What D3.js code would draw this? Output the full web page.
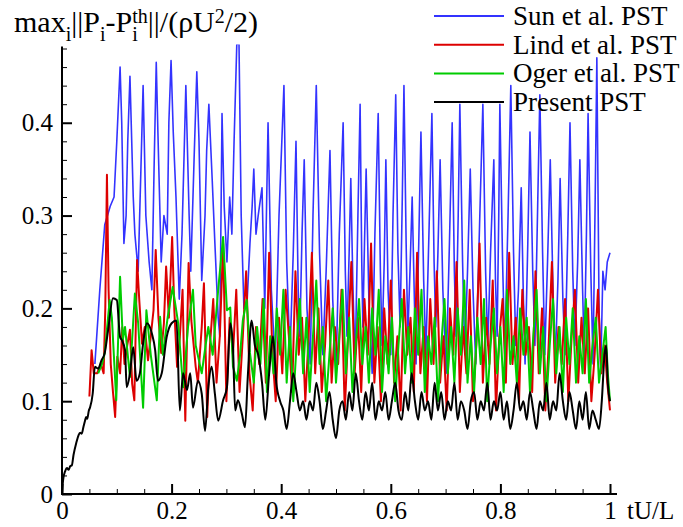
<!DOCTYPE html>
<html><head><meta charset="utf-8">
<script src="https://cdn.jsdelivr.net/npm/d3@7"></script>
<style>
body{margin:0;background:#fff}
svg{display:block}
text{font-family:"Liberation Serif","Times New Roman",serif;fill:#000}
</style>
</head><body>
<svg id="chart" width="683" height="527"></svg>
<script>
// ---------------- data ----------------
const xTickValues = [0, 0.2, 0.4, 0.6, 0.8, 1];
const xTickLabels = ["0", "0.2", "0.4", "0.6", "0.8", "1"];
const yTickValues = [0, 0.1, 0.2, 0.3, 0.4];
const yTickLabels = ["0", "0.1", "0.2", "0.3", "0.4"];
const seriesNames = ["Sun et al. PST", "Lind et al. PST", "Oger et al. PST", "Present PST"];
const xTitle = "tU/L";

const sunPST = [
[0.060,0.14],[0.069,0.22],[0.078,0.29],[0.088,0.31],[0.095,0.32],[0.100,0.38],[0.106,0.46],[0.109,0.40],
[0.113,0.27],[0.117,0.30],[0.120,0.38],[0.124,0.45],[0.130,0.32],[0.133,0.28],[0.139,0.24],[0.144,0.35],
[0.148,0.44],[0.153,0.30],[0.159,0.25],[0.164,0.22],[0.168,0.35],[0.172,0.465],[0.175,0.39],[0.181,0.25],
[0.186,0.30],[0.192,0.28],[0.195,0.40],[0.199,0.467],[0.203,0.39],[0.208,0.32],[0.214,0.21],[0.219,0.28],
[0.223,0.37],[0.226,0.44],[0.232,0.30],[0.235,0.24],[0.241,0.36],[0.246,0.455],[0.250,0.38],[0.255,0.23],
[0.261,0.30],[0.264,0.37],[0.268,0.42],[0.274,0.34],[0.279,0.27],[0.285,0.19],[0.288,0.17],[0.292,0.41],
[0.296,0.31],[0.301,0.25],[0.306,0.32],[0.310,0.28],[0.314,0.38],[0.319,0.485],[0.323,0.485],[0.327,0.30],
[0.332,0.20],[0.338,0.21],[0.343,0.27],[0.347,0.31],[0.350,0.35],[0.354,0.28],[0.358,0.30],[0.365,0.33],
[0.370,0.20],[0.376,0.40],[0.382,0.22],[0.389,0.14],[0.396,0.30],[0.405,0.44],[0.410,0.25],[0.416,0.15],
[0.422,0.26],[0.427,0.38],[0.431,0.22],[0.434,0.17],[0.438,0.28],[0.442,0.36],[0.447,0.20],[0.453,0.14],
[0.458,0.30],[0.464,0.44],[0.470,0.26],[0.476,0.15],[0.482,0.24],[0.489,0.37],[0.494,0.21],[0.500,0.13],
[0.506,0.28],[0.513,0.40],[0.517,0.24],[0.520,0.17],[0.524,0.26],[0.527,0.34],[0.531,0.22],[0.535,0.14],
[0.540,0.30],[0.544,0.42],[0.547,0.25],[0.549,0.18],[0.552,0.27],[0.555,0.35],[0.560,0.21],[0.566,0.13],
[0.571,0.28],[0.577,0.41],[0.581,0.24],[0.584,0.16],[0.588,0.25],[0.591,0.36],[0.595,0.22],[0.600,0.15],
[0.604,0.30],[0.609,0.43],[0.613,0.26],[0.617,0.18],[0.621,0.32],[0.624,0.44],[0.628,0.27],[0.631,0.17],
[0.635,0.24],[0.639,0.32],[0.643,0.21],[0.646,0.14],[0.651,0.27],[0.655,0.39],[0.660,0.23],[0.664,0.15],
[0.670,0.29],[0.675,0.41],[0.679,0.25],[0.682,0.18],[0.686,0.26],[0.690,0.36],[0.695,0.22],[0.701,0.13],
[0.707,0.27],[0.712,0.40],[0.716,0.24],[0.719,0.17],[0.723,0.30],[0.726,0.42],[0.731,0.25],[0.735,0.15],
[0.740,0.24],[0.745,0.35],[0.750,0.22],[0.755,0.14],[0.762,0.29],[0.768,0.42],[0.773,0.24],[0.777,0.16],
[0.782,0.26],[0.788,0.36],[0.791,0.23],[0.794,0.17],[0.797,0.30],[0.799,0.42],[0.804,0.25],[0.808,0.15],
[0.814,0.30],[0.819,0.44],[0.824,0.26],[0.828,0.16],[0.833,0.22],[0.838,0.33],[0.842,0.21],[0.845,0.14],
[0.850,0.27],[0.854,0.39],[0.859,0.24],[0.863,0.16],[0.868,0.31],[0.872,0.43],[0.877,0.26],[0.881,0.15],
[0.886,0.25],[0.891,0.36],[0.896,0.22],[0.900,0.14],[0.905,0.23],[0.909,0.34],[0.914,0.21],[0.918,0.15],
[0.923,0.28],[0.927,0.40],[0.932,0.24],[0.936,0.16],[0.941,0.25],[0.945,0.36],[0.950,0.22],[0.953,0.15],
[0.957,0.28],[0.960,0.41],[0.965,0.24],[0.969,0.14],[0.973,0.32],[0.976,0.47],[0.980,0.20],[0.983,0.13],
[0.987,0.24],[0.991,0.22],[0.995,0.25],[1.000,0.26]
];

const lindPST = [
[0.050,0.105],[0.054,0.155],[0.058,0.13],[0.064,0.13],[0.071,0.14],[0.076,0.13],[0.079,0.20],[0.082,0.344],
[0.085,0.22],[0.089,0.14],[0.093,0.11],[0.097,0.083],[0.101,0.148],[0.106,0.13],[0.110,0.18],[0.114,0.14],
[0.119,0.16],[0.124,0.177],[0.128,0.119],[0.132,0.101],[0.137,0.252],[0.141,0.209],[0.146,0.162],[0.151,0.18],
[0.157,0.144],[0.162,0.17],[0.167,0.198],[0.171,0.263],[0.176,0.19],[0.181,0.152],[0.186,0.184],[0.190,0.245],
[0.195,0.19],[0.201,0.277],[0.205,0.198],[0.210,0.137],[0.215,0.169],[0.220,0.22],[0.225,0.079],[0.231,0.249],
[0.236,0.187],[0.244,0.137],[0.248,0.12],[0.255,0.18],[0.259,0.227],[0.265,0.083],[0.270,0.16],[0.276,0.21],
[0.282,0.12],[0.288,0.17],[0.294,0.27],[0.300,0.10],[0.306,0.19],[0.312,0.15],[0.318,0.22],[0.324,0.11],
[0.330,0.17],[0.336,0.24],[0.342,0.13],[0.348,0.09],[0.354,0.18],[0.360,0.14],[0.366,0.21],[0.372,0.12],
[0.378,0.26],[0.384,0.15],[0.390,0.10],[0.396,0.19],[0.402,0.13],[0.408,0.22],[0.414,0.17],[0.420,0.11],
[0.426,0.24],[0.432,0.15],[0.438,0.19],[0.444,0.10],[0.450,0.17],[0.456,0.26],[0.462,0.13],[0.468,0.20],
[0.474,0.11],[0.480,0.16],[0.486,0.23],[0.492,0.12],[0.498,0.18],[0.504,0.14],[0.510,0.22],[0.516,0.09],
[0.522,0.17],[0.528,0.25],[0.534,0.13],[0.540,0.19],[0.546,0.11],[0.552,0.21],[0.558,0.15],[0.564,0.27],
[0.570,0.12],[0.576,0.18],[0.582,0.10],[0.588,0.20],[0.594,0.14],[0.600,0.23],[0.606,0.12],[0.612,0.17],
[0.618,0.09],[0.624,0.22],[0.630,0.15],[0.636,0.19],[0.642,0.11],[0.648,0.26],[0.654,0.13],[0.660,0.18],
[0.666,0.10],[0.672,0.21],[0.678,0.14],[0.684,0.24],[0.690,0.12],[0.696,0.17],[0.702,0.09],[0.708,0.20],
[0.714,0.15],[0.720,0.25],[0.726,0.11],[0.732,0.18],[0.738,0.13],[0.744,0.22],[0.750,0.10],[0.756,0.16],
[0.762,0.27],[0.768,0.12],[0.774,0.19],[0.780,0.14],[0.786,0.23],[0.792,0.09],[0.798,0.17],[0.804,0.21],
[0.810,0.12],[0.816,0.26],[0.822,0.14],[0.828,0.19],[0.834,0.10],[0.840,0.22],[0.846,0.15],[0.852,0.18],
[0.858,0.11],[0.864,0.24],[0.870,0.13],[0.876,0.20],[0.882,0.09],[0.888,0.16],[0.894,0.25],[0.900,0.12],
[0.906,0.18],[0.912,0.14],[0.918,0.21],[0.924,0.10],[0.930,0.17],[0.936,0.22],[0.942,0.12],[0.948,0.19],
[0.954,0.13],[0.960,0.20],[0.966,0.10],[0.972,0.15],[0.978,0.22],[0.984,0.13],[0.990,0.16],[0.995,0.12],
[1.000,0.09]
];

const ogerPST = [
[0.066,0.13],[0.073,0.14],[0.078,0.152],[0.087,0.209],[0.091,0.19],[0.099,0.101],[0.106,0.234],[0.111,0.166],
[0.115,0.18],[0.124,0.126],[0.133,0.216],[0.139,0.184],[0.148,0.093],[0.154,0.198],[0.162,0.15],[0.173,0.101],
[0.179,0.191],[0.184,0.15],[0.193,0.191],[0.202,0.223],[0.212,0.184],[0.221,0.115],[0.230,0.18],[0.239,0.22],
[0.244,0.16],[0.255,0.13],[0.262,0.16],[0.267,0.18],[0.275,0.15],[0.285,0.22],[0.294,0.277],[0.301,0.198],
[0.307,0.201],[0.312,0.137],[0.319,0.122],[0.325,0.15],[0.330,0.187],[0.337,0.209],[0.343,0.152],[0.350,0.12],
[0.356,0.18],[0.362,0.14],[0.368,0.21],[0.374,0.11],[0.380,0.17],[0.386,0.13],[0.392,0.20],[0.398,0.15],
[0.404,0.22],[0.410,0.12],[0.416,0.18],[0.422,0.10],[0.428,0.16],[0.434,0.21],[0.440,0.13],[0.446,0.19],
[0.452,0.11],[0.458,0.17],[0.464,0.23],[0.470,0.14],[0.476,0.18],[0.482,0.10],[0.488,0.15],[0.494,0.20],
[0.500,0.12],[0.506,0.17],[0.512,0.22],[0.518,0.13],[0.524,0.19],[0.530,0.11],[0.536,0.16],[0.542,0.21],
[0.548,0.14],[0.554,0.18],[0.560,0.12],[0.566,0.20],[0.572,0.15],[0.578,0.22],[0.584,0.11],[0.590,0.17],
[0.596,0.13],[0.602,0.19],[0.608,0.10],[0.614,0.16],[0.620,0.21],[0.626,0.13],[0.632,0.18],[0.638,0.12],
[0.644,0.20],[0.650,0.15],[0.656,0.22],[0.662,0.11],[0.668,0.17],[0.674,0.14],[0.680,0.19],[0.686,0.10],
[0.692,0.16],[0.698,0.21],[0.704,0.13],[0.710,0.18],[0.716,0.12],[0.722,0.20],[0.728,0.15],[0.734,0.23],
[0.740,0.12],[0.746,0.17],[0.752,0.11],[0.758,0.19],[0.764,0.14],[0.770,0.21],[0.776,0.10],[0.782,0.16],
[0.788,0.20],[0.794,0.13],[0.800,0.18],[0.806,0.11],[0.812,0.22],[0.818,0.14],[0.824,0.17],[0.830,0.12],
[0.836,0.20],[0.842,0.15],[0.848,0.19],[0.854,0.11],[0.860,0.17],[0.866,0.22],[0.872,0.13],[0.878,0.18],
[0.884,0.10],[0.890,0.16],[0.896,0.21],[0.902,0.13],[0.908,0.18],[0.914,0.11],[0.920,0.19],[0.926,0.14],
[0.932,0.20],[0.938,0.12],[0.944,0.17],[0.950,0.13],[0.956,0.21],[0.962,0.12],[0.968,0.16],[0.974,0.19],
[0.980,0.12],[0.986,0.15],[0.992,0.18],[0.996,0.13],[1.000,0.10]
];

const presentPST = [
[0.000,0.000],[0.002,0.015],[0.006,0.025],[0.009,0.028],[0.012,0.026],[0.015,0.030],[0.018,0.031],[0.021,0.042],
[0.026,0.055],[0.030,0.063],[0.033,0.066],[0.036,0.065],[0.039,0.072],[0.042,0.079],[0.044,0.083],[0.046,0.081],
[0.049,0.090],[0.051,0.093],[0.056,0.108],[0.060,0.137],[0.066,0.135],[0.072,0.144],[0.078,0.152],[0.084,0.176],
[0.093,0.211],[0.100,0.209],[0.106,0.169],[0.109,0.166],[0.115,0.155],[0.118,0.115],[0.124,0.130],[0.130,0.158],
[0.136,0.122],[0.142,0.130],[0.148,0.162],[0.155,0.184],[0.164,0.173],[0.170,0.155],[0.175,0.122],[0.182,0.130],
[0.191,0.169],[0.200,0.184],[0.209,0.187],[0.215,0.090],[0.221,0.130],[0.228,0.112],[0.234,0.130],[0.239,0.093],
[0.248,0.122],[0.255,0.108],[0.261,0.068],[0.267,0.115],[0.273,0.137],[0.279,0.108],[0.285,0.079],[0.294,0.101],
[0.301,0.115],[0.307,0.184],[0.312,0.158],[0.316,0.090],[0.321,0.101],[0.328,0.087],[0.334,0.072],[0.339,0.126],
[0.346,0.187],[0.352,0.16],[0.358,0.15],[0.365,0.12],[0.371,0.08],[0.378,0.13],[0.385,0.17],[0.391,0.12],
[0.398,0.10],[0.404,0.09],[0.410,0.07],[0.416,0.10],[0.422,0.13],[0.428,0.11],[0.434,0.09],[0.440,0.10],
[0.446,0.08],[0.452,0.10],[0.458,0.09],[0.464,0.12],[0.470,0.10],[0.476,0.07],[0.482,0.09],[0.488,0.11],
[0.494,0.08],[0.500,0.06],[0.506,0.09],[0.512,0.10],[0.518,0.08],[0.524,0.11],[0.530,0.09],[0.536,0.13],
[0.542,0.10],[0.548,0.08],[0.554,0.11],[0.560,0.09],[0.566,0.12],[0.572,0.08],[0.578,0.10],[0.584,0.09],
[0.590,0.11],[0.596,0.08],[0.602,0.10],[0.608,0.12],[0.614,0.09],[0.620,0.08],[0.626,0.11],[0.632,0.09],
[0.638,0.13],[0.644,0.10],[0.650,0.08],[0.656,0.11],[0.662,0.09],[0.668,0.10],[0.674,0.08],[0.680,0.12],
[0.686,0.09],[0.692,0.11],[0.698,0.08],[0.704,0.10],[0.710,0.09],[0.716,0.12],[0.722,0.08],[0.728,0.10],
[0.734,0.09],[0.740,0.07],[0.746,0.10],[0.752,0.11],[0.758,0.08],[0.764,0.10],[0.770,0.09],[0.776,0.12],
[0.782,0.08],[0.788,0.10],[0.794,0.09],[0.800,0.11],[0.806,0.08],[0.812,0.10],[0.818,0.07],[0.824,0.09],
[0.830,0.12],[0.836,0.09],[0.842,0.10],[0.848,0.08],[0.854,0.11],[0.860,0.09],[0.866,0.07],[0.872,0.10],
[0.878,0.09],[0.884,0.12],[0.890,0.08],[0.896,0.10],[0.902,0.09],[0.908,0.13],[0.914,0.10],[0.920,0.08],
[0.926,0.11],[0.932,0.09],[0.938,0.07],[0.944,0.10],[0.950,0.08],[0.956,0.11],[0.962,0.07],[0.968,0.09],
[0.974,0.08],[0.980,0.07],[0.985,0.10],[0.990,0.15],[0.993,0.16],[0.996,0.12],[1.000,0.10]
];

// ---------------- drawing ----------------
const SERIF = '"Liberation Serif","Times New Roman",serif';
const svg = d3.select("#chart");
const x = d3.scaleLinear().domain([0, 1]).range([62, 610]);
const y = d3.scaleLinear().domain([0, 0.48]).range([494, 48.5]);

const series = [
  {name: seriesNames[0], data: sunPST, color: "#3333ff", w: 1.6, curve: d3.curveLinear},
  {name: seriesNames[1], data: lindPST, color: "#dd0000", w: 2, curve: d3.curveLinear},
  {name: seriesNames[2], data: ogerPST, color: "#00cc00", w: 2, curve: d3.curveLinear},
  {name: seriesNames[3], data: presentPST, color: "#000000", w: 2, curve: d3.curveMonotoneX}
];

svg.append("clipPath").attr("id", "clip").append("rect")
  .attr("x", x(0)).attr("y", y(0.48) - 4)
  .attr("width", x(1) - x(0) + 1).attr("height", y(0) - y(0.48) + 4);

const gLines = svg.append("g").attr("clip-path", "url(#clip)");
series.forEach(s => {
  const line = d3.line().x(d => x(d[0])).y(d => y(d[1])).curve(s.curve);
  gLines.append("path").datum(s.data).attr("d", line)
    .attr("fill", "none").attr("stroke", s.color).attr("stroke-width", s.w)
    .attr("stroke-linejoin", "round");
});

// axes
const xMinor = d3.range(0, 1.0001, 0.05).filter(v => Math.abs(v * 5 - Math.round(v * 5)) > 1e-6);
const yMinor = d3.range(0, 0.4801, 0.02).filter(v => Math.abs(v * 10 - Math.round(v * 10)) > 1e-6);

const gx = svg.append("g").attr("transform", `translate(0,${y(0)})`);
gx.call(d3.axisBottom(x).tickValues(xMinor).tickSize(-5).tickFormat("").tickSizeOuter(0));
gx.selectAll("line").attr("stroke-width", 1);
const gx2 = svg.append("g").attr("transform", `translate(0,${y(0)})`);
gx2.call(d3.axisBottom(x).tickValues(xTickValues).tickSize(-10).tickPadding(7)
  .tickFormat((d, i) => xTickLabels[i]).tickSizeOuter(0));
gx2.selectAll("line").attr("stroke-width", 2);
gx2.selectAll("text").style("font-size", "25px").style("font-family", SERIF);

const gy = svg.append("g").attr("transform", `translate(${x(0)},0)`);
gy.call(d3.axisLeft(y).tickValues(yMinor).tickSize(-5).tickFormat("").tickSizeOuter(0));
gy.selectAll("line").attr("stroke-width", 1);
const gy2 = svg.append("g").attr("transform", `translate(${x(0)},0)`);
gy2.call(d3.axisLeft(y).tickValues(yTickValues).tickSize(-10).tickPadding(9)
  .tickFormat((d, i) => yTickLabels[i]).tickSizeOuter(0));
gy2.selectAll("line").attr("stroke-width", 2);
gy2.selectAll("text").style("font-size", "25px").style("font-family", SERIF);

svg.selectAll(".domain").remove();
svg.append("line").attr("x1", x(0) - 1).attr("x2", x(1) + 7).attr("y1", y(0)).attr("y2", y(0))
  .attr("stroke", "#000").attr("stroke-width", 2);
svg.append("line").attr("x1", x(0)).attr("x2", x(0)).attr("y1", y(0) + 1).attr("y2", y(0.48) - 2)
  .attr("stroke", "#000").attr("stroke-width", 2);

svg.append("text").attr("x", x(1) + 17).attr("y", 519)
  .style("font-size", "25px").style("font-family", SERIF).text(xTitle);

// y title
const t = svg.append("text").attr("x", 14).attr("y", 32)
  .style("font-size", "30px").style("font-family", SERIF);
const sub = (txt) => t.append("tspan").style("font-size", "20px");
t.append("tspan").text("max");
sub().attr("dy", 9).text("i");
t.append("tspan").attr("dy", -9).text("||P");
sub().attr("dy", 9).text("i");
t.append("tspan").attr("dy", -9).text("-P");
sub().attr("dy", 9).text("i");
sub().attr("dx", -5.5).attr("dy", -18).text("th");
t.append("tspan").attr("dy", 9).text("||/(ρU");
sub().attr("dy", -9).text("2");
t.append("tspan").attr("dy", 9).text("/2)");

// legend
const lg = svg.append("g");
series.forEach((s, i) => {
  const yy = 16 + i * 28.7;
  lg.append("line").attr("x1", 434).attr("x2", 504).attr("y1", yy).attr("y2", yy)
    .attr("stroke", s.color).attr("stroke-width", 2);
  lg.append("text").attr("x", 513).attr("y", yy + 9)
    .style("font-size", "27px").style("font-family", SERIF).text(s.name);
});
</script>
</body></html>
